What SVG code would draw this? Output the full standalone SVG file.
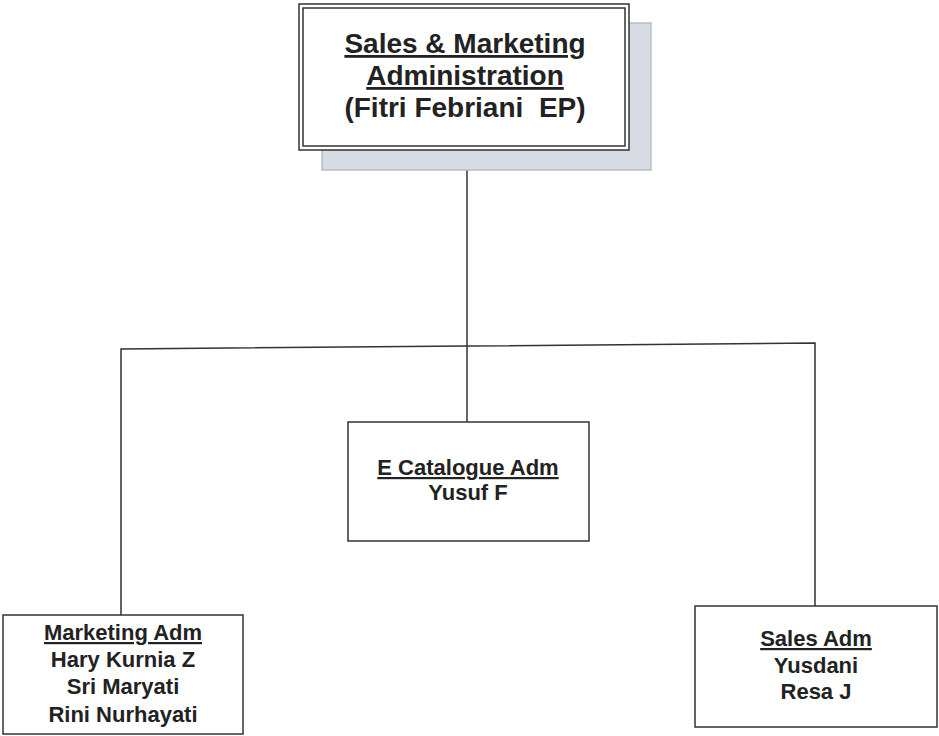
<svg xmlns="http://www.w3.org/2000/svg" width="939" height="736" viewBox="0 0 939 736">
<style>
.box{fill:#fff;stroke:#333;stroke-width:1.5}
.t{font-family:"Liberation Sans",Arial,sans-serif;font-weight:bold;fill:#222;text-anchor:middle}
.u{text-decoration:underline}
.c{fill:none;stroke:#333;stroke-width:1.5}
</style>
<rect width="939" height="736" fill="#fff"/>
<g id="connectors">
<line class="c" x1="467" y1="150" x2="467" y2="422"/>
<polyline class="c" points="121,616 121,349 467,346 815,343 815,607"/>
</g>
<g id="top">
<rect x="322" y="23" width="329" height="147" fill="#d6dbe4" stroke="#b8bcc4" stroke-width="1.5"/>
<rect class="box" x="299" y="4" width="330" height="146" stroke-width="2"/>
<rect x="303" y="8" width="322" height="138" fill="none" stroke="#333" stroke-width="1.5"/>
<text class="t u" x="465" y="53" font-size="28">Sales &amp; Marketing</text>
<text class="t u" x="465" y="85" font-size="28">Administration</text>
<text class="t" x="465" y="117" font-size="28" xml:space="preserve">(Fitri Febriani  EP)</text>
</g>
<g id="ecatalogue">
<rect class="box" x="348" y="422" width="241" height="119"/>
<text class="t u" x="468" y="475" font-size="22">E Catalogue Adm</text>
<text class="t" x="468" y="500" font-size="22">Yusuf F</text>
</g>
<g id="marketing">
<rect class="box" x="3" y="615" width="240" height="119"/>
<text class="t u" x="123" y="640" font-size="22">Marketing Adm</text>
<text class="t" x="123" y="667" font-size="22">Hary Kurnia Z</text>
<text class="t" x="123" y="694" font-size="22">Sri Maryati</text>
<text class="t" x="123" y="722" font-size="22">Rini Nurhayati</text>
</g>
<g id="sales">
<rect class="box" x="695" y="606" width="242" height="121"/>
<text class="t u" x="816" y="646" font-size="22">Sales Adm</text>
<text class="t" x="816" y="673" font-size="22">Yusdani</text>
<text class="t" x="816" y="699" font-size="22">Resa J</text>
</g>
</svg>
